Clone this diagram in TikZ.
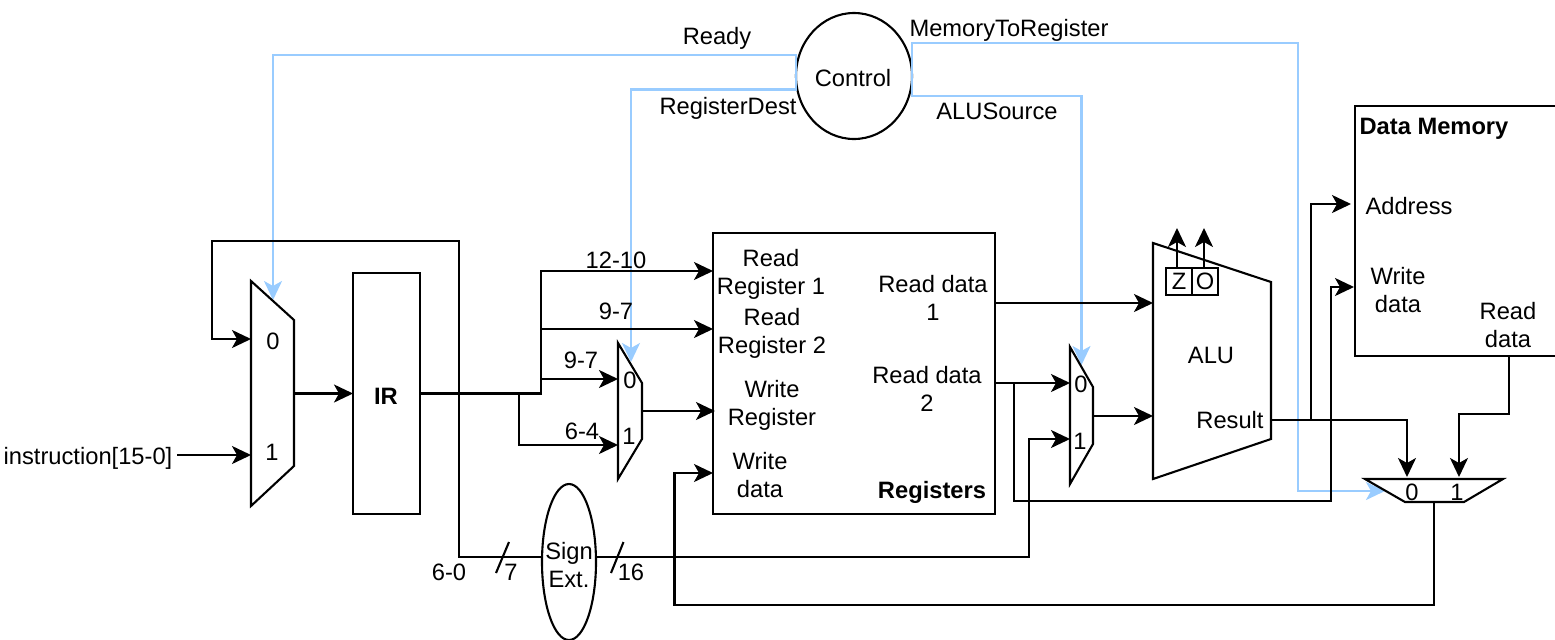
\documentclass[tikz,border=0pt]{standalone}
\usepackage{xcolor}
\usepackage{fontspec}
\setmainfont{Liberation Sans}
\usepackage{tikz}
\usetikzlibrary{arrows.meta,positioning,shapes.geometric}
\definecolor{ctlblue}{HTML}{99CCFF}
\tikzset{
  base/.style={font=\fontsize{11.85}{14}\selectfont, inner sep=0pt, outer sep=0pt, align=center},
  lbl/.style={base},
  blbl/.style={base, font=\fontsize{11.85}{14}\selectfont\bfseries},
  blk/.style={base, draw=black, line width=1.05pt},
  oval/.style={blk, ellipse, fill=white},
  outl/.style={line width=1.05pt, line join=miter},
  barr/.style={-{Stealth[length=9.5pt,width=9pt,inset=2.5pt]}, line width=1.05pt},
  ctl/.style={-{Stealth[length=9.5pt,width=9pt,inset=2.5pt]}, line width=1.15pt, draw=ctlblue, color=ctlblue}
}
\begin{document}
\begin{tikzpicture}[x=0.5pt,y=-0.5pt]
\useasboundingbox (0,0) rectangle (1555,639);
% control unit and its select lines
\node[oval, minimum width=58pt, minimum height=63pt, text depth=0pt] (ctrl) at (854,76) {};
\node[lbl] (tctrl) at (853,78) {Control};
\coordinate (selA) at (273,300); \coordinate (selB) at (631,362); \coordinate (selC) at (1081.5,365); \coordinate (selD) at (1385,491);
\coordinate (ready) at (796,55); \coordinate (regdst) at (796,89.5); \coordinate (memreg) at (912,43); \coordinate (alusrc) at (912,96); \coordinate (memdn) at (1298,491);
\draw[ctl] (ctrl.west)--(ready)-|(selA); \draw[ctl] (ctrl.west)--(regdst)-|(selB);
\draw[ctl] (ctrl.east)--(memreg)-|(memdn)--(selD); \draw[ctl] (ctrl.east)--(alusrc)-|(selC);
\node[lbl] (lready) at (717,38) {Ready};
\node[lbl] (lregdst) at (728,108) {RegisterDest};
\node[lbl] (lmemreg) at (1009,30) {MemoryToRegister};
\node[lbl] (lalusrc) at (997,111) {ALUSource};
% multiplexers and ALU outline
\draw[outl] (251,281)--(294,320)--(294,466)--(251,506)--cycle;
\draw[outl] (618,343)--(642,383)--(642,439)--(618,479)--cycle;
\draw[outl] (1070,347)--(1093,387)--(1093,444)--(1070,484)--cycle;
\draw[outl] (1153,243)--(1271,282)--(1271,439)--(1153,479)--cycle;
\draw[outl] (1365,479)--(1503,479)--(1464,502)--(1405,502)--cycle;
\node[lbl] (m1a) at (273,341) {0}; \node[lbl] (m1b) at (272,452) {1};
\node[lbl] (m2a) at (630,380) {0}; \node[lbl] (m2b) at (629,436) {1};
\node[lbl] (m3a) at (1081,384) {0}; \node[lbl] (m3b) at (1080,441) {1};
\node[lbl] (m4a) at (1412,492) {0}; \node[lbl] (m4b) at (1457,492) {1};
\node[lbl] (alu) at (1211,355) {ALU};
\node[lbl] (res) at (1230,420) {Result};
% boxes
\coordinate (m1out) at (294,393.5);
\node[blk, minimum width=33.5pt, minimum height=120.5pt, right=29.5pt of m1out] (ir) {};
\node[blbl] (tir) at (386,396) {IR};
\node[blk, minimum width=141pt, minimum height=140.5pt] (regs) at (854,373.5) {};
\node[blk, minimum width=110pt, minimum height=125pt] (mem) at (1465,231) {};
\node[oval, minimum width=27pt, minimum height=78pt, fill=none] (sext) at (569,562) {};
\node[lbl] (tsext) at (569,565) {Sign\\Ext.};
\node[lbl] (rr1) at (771,274) {Read\\Register 1};
\node[lbl] (rr2) at (772,333) {Read\\Register 2};
\node[lbl] (wr) at (772,405) {Write\\Register};
\node[lbl] (wd) at (760,475) {Write\\data};
\node[lbl] (rd1) at (933,298) {Read data\\1};
\node[lbl] (rd2) at (927,389) {Read data\\2};
\node[blbl] (treg) at (932,492) {Registers};
\node[blbl] (tmem) at (1434,129) {Data Memory};
\node[lbl] (addr) at (1409,206) {Address};
\node[lbl] (mwd) at (1398,290) {Write\\data};
\node[lbl] (mrd) at (1508,325) {Read\\data};
% flags on the ALU
\node[blk, minimum width=13pt, minimum height=13.5pt] (fz) at (1179,281.5) {Z};
\node[blk, minimum width=13pt, minimum height=13.5pt, right=0pt of fz] (fo) {O};
\coordinate (fzt) at (1177,228); \coordinate (fzb) at (1177,268); \coordinate (fot) at (1204,228); \coordinate (fob) at (1204,268);
\draw[barr] (fzb)--(fzt); \draw[barr] (fob)--(fot);
% input side
\node[lbl] (instr) at (88,458) {instruction[15-0]};
\coordinate (m1p0) at (251,339); \coordinate (m1p1) at (251,455); \coordinate (instrout) at (177,455);
\coordinate (fbk) at (459,241); \coordinate (fbl) at (212,241); \coordinate (irout) at (541,393.5); \coordinate (irbr) at (519,393.5);
\coordinate (sxin) at (543,557); \coordinate (sxout) at (595,557); \coordinate (sxbot) at (459,557); \coordinate (sxbend) at (1029,557);
\draw[barr] (instrout)--(m1p1); \draw[barr] (m1out)--(ir.west);
\draw[barr] (sxin)--(sxbot)--(fbk)--(fbl)|-(m1p0);
\coordinate (r1) at (713,271); \coordinate (r2) at (713,329); \coordinate (r3) at (715,411); \coordinate (r4) at (713,473);
\coordinate (m2p0) at (618,379); \coordinate (m2p1) at (618,445); \coordinate (m2out) at (642,411);
\draw[barr] (ir.east)--(irout)|-(r1); \draw[barr] (irout)|-(r2); \draw[barr] (irout)|-(m2p0);
\draw[barr] (irbr)|-(m2p1); \draw[barr] (m2out)--(r3);
\node[lbl] (b1210) at (616,260) {12-10};
\node[lbl] (b97a) at (616,311) {9-7};
\node[lbl] (b97b) at (581,360) {9-7};
\node[lbl] (b64) at (582,431) {6-4};
% sign extension
\coordinate (m3p0) at (1070,383); \coordinate (m3p1) at (1070,439); \coordinate (m3out) at (1093,416);
\draw[barr] (sxout)--(sxbend)|-(m3p1);
\draw[outl] (509,542)--(496,573); \draw[outl] (623.5,542)--(611,573);
\node[lbl] (b60) at (449,572) {6-0};
\node[lbl] (b7) at (511,572) {7};
\node[lbl] (b16) at (631,572) {16};
% registers to ALU and memory
\coordinate (rdAout) at (995,303); \coordinate (rdBout) at (995,383); \coordinate (aluA) at (1153,303); \coordinate (aluB) at (1153,416);
\coordinate (rdBbr) at (1014,383); \coordinate (aluout) at (1271,420); \coordinate (resbr) at (1311,420); \coordinate (wrbot) at (1331,501);
\coordinate (maddr) at (1351,204); \coordinate (mwrite) at (1354,287); \coordinate (m4p0) at (1407,477); \coordinate (m4p1) at (1459,477);
\draw[barr] (rdAout)--(aluA); \draw[barr] (rdBout)--(m3p0); \draw[barr] (m3out)--(aluB);
\draw[barr] (rdBbr)|-(wrbot)|-(mwrite);
\draw[barr] (aluout)-|(m4p0); \draw[barr] (resbr)|-(maddr);
\coordinate (mout) at (1509,356); \coordinate (mbend) at (1509,414);
\draw[barr] (mout)--(mbend)-|(m4p1);
\coordinate (m4out) at (1434,502); \coordinate (wbbot) at (674.5,605);
\draw[barr] (m4out)|-(wbbot)|-(r4);
\end{tikzpicture}
\end{document}
